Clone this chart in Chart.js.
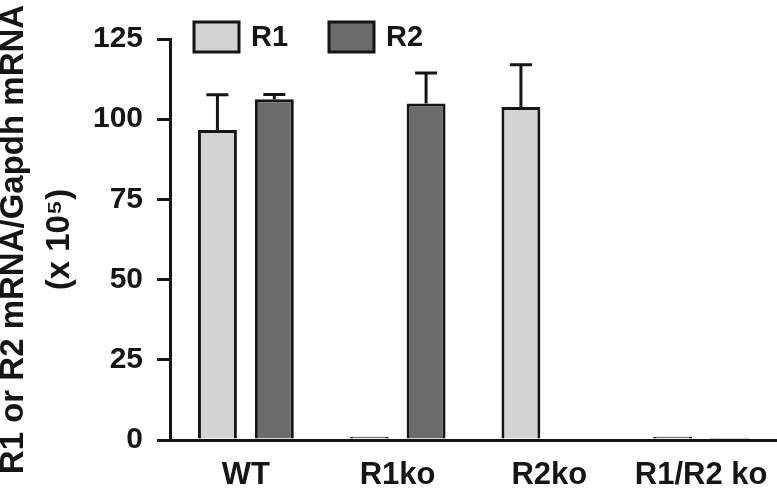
<!DOCTYPE html>
<html>
<head>
<meta charset="utf-8">
<script src="https://cdn.jsdelivr.net/npm/chart.js@4/dist/chart.umd.min.js"></script>
<style>
  html, body { margin: 0; padding: 0; background: #fff; }
  #wrap { width: 777px; height: 492px; position: relative; }
</style>
</head>
<body>
<div id="wrap"><canvas id="chart"></canvas></div>
<script>
const groups = ['WT', 'R1ko', 'R2ko', 'R1/R2 ko'];
const r1Values = [96.6, 1.0, 103.8, 1.0];
const r2Values = [106.2, 104.9, null, 0.6];
const r1Errors = [11, 0, 13.2, 0];
const r2Errors = [1.5, 9.5, 0, 0];
const yTicks = [0, 25, 50, 75, 100, 125];

const ink = '#151515';
const fontFamily = '"Liberation Sans", Arial, Helvetica, sans-serif';

// up-only error bars with a cap, like the original figure
const errorBars = {
    id: 'errorBars',
    afterDatasetsDraw(chart) {
        const ctx = chart.ctx;
        const y = chart.scales.y;
        ctx.save();
        ctx.strokeStyle = ink;
        ctx.lineWidth = 3;
        chart.data.datasets.forEach((ds, di) => {
            const meta = chart.getDatasetMeta(di);
            meta.data.forEach((bar, i) => {
                const v = ds.data[i];
                const e = ds.errors[i];
                if (v == null || !e) return;
                const top = y.getPixelForValue(v + e);
                ctx.beginPath();
                ctx.moveTo(bar.x, bar.y);
                ctx.lineTo(bar.x, top);
                ctx.moveTo(bar.x - 11, top);
                ctx.lineTo(bar.x + 11, top);
                ctx.stroke();
            });
        });
        ctx.restore();
    }
};

// legend drawn inside the plot, top left
const innerLegend = {
    id: 'innerLegend',
    afterDraw(chart) {
        const ctx = chart.ctx;
        const area = chart.chartArea;
        ctx.save();
        ctx.font = 'bold 29px ' + fontFamily;
        ctx.textBaseline = 'middle';
        chart.data.datasets.forEach((ds, i) => {
            const x = area.left + 24 + i * 135;
            const yTop = 22;
            ctx.fillStyle = ds.backgroundColor;
            ctx.fillRect(x, yTop, 45, 30);
            ctx.strokeStyle = ink;
            ctx.lineWidth = 3;
            ctx.strokeRect(x, yTop, 45, 30);
            ctx.fillStyle = ink;
            ctx.fillText(ds.label, x + 57, yTop + 16);
        });
        ctx.restore();
    }
};

new Chart(document.getElementById('chart'), {
    type: 'bar',
    data: {
        labels: groups,
        datasets: [
            {
                label: 'R1',
                data: r1Values,
                errors: r1Errors,
                backgroundColor: '#d3d3d3',
                borderColor: ink,
                borderWidth: 3,
                borderSkipped: 'bottom'
            },
            {
                label: 'R2',
                data: r2Values,
                errors: r2Errors,
                backgroundColor: '#6b6b6b',
                borderColor: ink,
                borderWidth: 3,
                borderSkipped: 'bottom'
            }
        ]
    },
    options: {
        responsive: true,
        maintainAspectRatio: false,
        animation: false,
        categoryPercentage: 0.75,
        barPercentage: 0.684,
        layout: { padding: { top: 39, left: 0, right: 0, bottom: 0 } },
        plugins: {
            legend: { display: false },
            tooltip: { enabled: false }
        },
        scales: {
            x: {
                afterFit(scale) { scale.height = 52; },
                grid: { display: false },
                border: { display: true, color: ink, width: 3 },
                ticks: {
                    color: ink,
                    padding: 9,
                    maxRotation: 0,
                    font: { family: fontFamily, size: 31, weight: 'bold' }
                }
            },
            y: {
                min: 0,
                max: 125,
                afterFit(scale) { scale.width = 170; },
                afterBuildTicks(scale) {
                    scale.ticks = yTicks.map(v => ({ value: v }));
                },
                grid: {
                    display: true,
                    drawOnChartArea: false,
                    drawTicks: true,
                    tickLength: 13,
                    lineWidth: 3,
                    color: ink
                },
                border: { display: true, color: ink, width: 3 },
                ticks: {
                    color: ink,
                    padding: 14,
                    font: { family: fontFamily, size: 30, weight: 'bold' }
                },
                title: {
                    display: true,
                    text: ['R1 or R2 mRNA/Gapdh mRNA', '(x 10\u2075)'],
                    color: ink,
                    padding: { top: -9, bottom: 0 },
                    font: { family: fontFamily, size: 33, weight: 'bold', lineHeight: 1.39 }
                }
            }
        }
    },
    plugins: [errorBars, innerLegend]
});
</script>
</body>
</html>
